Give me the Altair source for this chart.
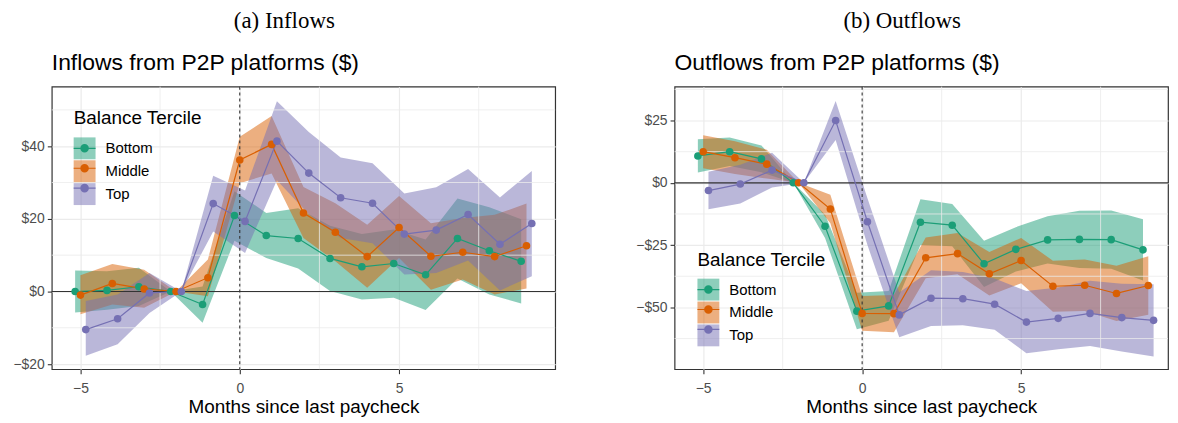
import altair as alt
import pandas as pd

# ---------------- data ----------------
months = [-5, -4, -3, -2, -1, 0, 1, 2, 3, 4, 5, 6, 7, 8, 9]
terciles = ["Bottom", "Middle", "Top"]
colors = ["#1B9E77", "#D95F02", "#7570B3"]

# (a) Inflows from P2P platforms ($)
in_bottom    = [0.0, 0.3, 1.3, 0.0, -3.6, 20.9, 15.4, 14.6, 9.1, 6.8, 7.7, 4.6, 14.6, 11.2, 8.3]
in_bottom_lo = [-5.8, -5.0, -4.0, 0.0, -8.6, 14.0, 9.2, 6.3, 0.1, -2.2, -1.7, -5.1, 3.6, -0.8, -3.3]
in_bottom_hi = [5.8, 5.6, 6.5, 0.0, 1.4, 27.6, 21.6, 22.9, 18.1, 15.8, 17.1, 14.3, 25.6, 23.2, 19.9]

in_middle    = [-1.0, 2.2, 0.7, 0.0, 3.8, 36.2, 40.5, 21.6, 16.3, 9.6, 17.6, 9.7, 10.8, 9.6, 12.6]
in_middle_lo = [-6.3, -3.6, -4.5, 0.0, -1.3, 29.8, 32.5, 14.7, 8.3, 1.0, 9.2, 0.5, 3.3, -0.8, 0.8]
in_middle_hi = [4.5, 7.6, 6.0, 0.0, 8.8, 42.6, 48.3, 28.8, 24.3, 18.4, 26.3, 18.8, 20.2, 21.1, 24.2]

in_top    = [-10.5, -7.5, -0.4, 0.0, 24.2, 19.3, 41.4, 32.6, 25.8, 24.3, 15.8, 16.9, 21.2, 13.0, 18.7]
in_top_lo = [-17.7, -14.5, -5.9, 0.0, 16.5, 10.6, 30.6, 21.3, 14.7, 13.3, 4.7, 5.1, 8.5, 0.3, 4.2]
in_top_hi = [-2.6, -0.8, 5.1, 0.0, 31.9, 27.8, 52.4, 43.9, 36.9, 35.3, 27.0, 28.7, 33.7, 25.9, 33.2]

# (b) Outflows from P2P platforms ($)
out_bottom    = [10.8, 12.5, 9.6, 0.0, -17.4, -51.5, -49.4, -15.8, -17.0, -32.5, -26.7, -22.9, -22.7, -22.8, -26.9]
out_bottom_lo = [4.1, 6.8, 4.2, 0.0, -22.1, -58.8, -55.4, -25.0, -25.5, -41.8, -35.6, -32.4, -34.2, -34.5, -39.2]
out_bottom_hi = [17.5, 18.2, 15.0, 0.0, -12.7, -44.1, -43.4, -6.6, -8.5, -23.2, -17.8, -13.4, -11.2, -11.1, -14.6]

out_middle    = [12.5, 10.1, 7.5, 0.0, -10.5, -52.4, -52.5, -30.1, -28.4, -36.5, -31.2, -41.5, -41.1, -44.4, -41.2]
out_middle_lo = [5.9, 3.5, 1.7, 0.0, -16.2, -59.4, -60.0, -38.3, -36.7, -45.2, -40.3, -51.7, -51.4, -55.5, -52.9]
out_middle_hi = [19.1, 16.7, 13.3, 0.0, -4.8, -45.4, -45.0, -21.9, -20.1, -27.8, -22.1, -31.3, -30.8, -33.3, -29.5]

out_top    = [-3.1, -0.5, 5.1, 0.0, 25.0, -15.6, -53.0, -46.3, -46.5, -48.7, -55.9, -54.4, -52.4, -54.1, -55.2]
out_top_lo = [-10.6, -8.3, -1.9, 0.0, 17.2, -25.0, -62.0, -57.5, -57.2, -59.0, -68.4, -66.8, -65.5, -67.7, -69.7]
out_top_hi = [4.4, 7.3, 12.1, 0.0, 32.8, -6.2, -44.0, -35.1, -35.8, -38.4, -43.4, -42.0, -39.3, -40.5, -40.7]

# axis ticks / grid positions
x_major = [-5, 0, 5]
x_minor = [-2.5, 2.5, 7.5]
in_y_major = [-20, 0, 20, 40]
in_y_minor = [-10, 10, 30, 50]
out_y_major = [-50, -25, 0, 25]
out_y_minor = [-62.5, -37.5, -12.5, 12.5, 37.5]
ref_zero = [0]

# ---------------- styling ----------------
DODGE = {"Bottom": -1 / 6, "Middle": 0.0, "Top": 1 / 6}
SANS = "Liberation Sans"
SERIF = "Liberation Serif"
LEGEND_PATH = ("M-1,-0.055L1,-0.055L1,0.055L-1,0.055Z"
               "M0.39,0A0.39,0.39,0,1,1,-0.39,0A0.39,0.39,0,1,1,0.39,0Z")
LEG_TITLE_H = 28  # vertical room taken by the legend title + its padding


def build(series):
    rows = []
    for t, (vals, los, his) in zip(terciles, series):
        for m, v, lo, hi in zip(months, vals, los, his):
            rows.append({"month": m, "Tercile": t, "Group": t, "LineGroup": t,
                         "x": m + DODGE[t], "value": v, "lo": lo, "hi": hi})
    return pd.DataFrame(rows)


df_in = build([(in_bottom, in_bottom_lo, in_bottom_hi),
               (in_middle, in_middle_lo, in_middle_hi),
               (in_top, in_top_lo, in_top_hi)])
df_out = build([(out_bottom, out_bottom_lo, out_bottom_hi),
                (out_middle, out_middle_lo, out_middle_hi),
                (out_top, out_top_lo, out_top_hi)])


def panel(df, xdom, ydom, ymaj, ymin, width, title, lx, ly):
    xs = alt.Scale(domain=xdom, nice=False, zero=False)
    ys = alt.Scale(domain=ydom, nice=False, zero=False)
    xaxis = alt.Axis(values=x_major, title="Months since last paycheck",
                     labelExpr="datum.value < 0 ? '\u2212' + abs(datum.value) : '' + datum.value")
    yaxis = alt.Axis(values=ymaj, title=None,
                     labelExpr="datum.value < 0 ? '\u2212$' + abs(datum.value) : '$' + datum.value")

    def X(f):
        return alt.X(f, scale=xs, axis=xaxis)

    def Y(f):
        return alt.Y(f, scale=ys, axis=yaxis)

    leg_common = dict(orient="none", legendX=lx,
                      symbolSize=484, symbolStrokeWidth=0, labelOffset=10,
                      rowPadding=1, titlePadding=9, padding=0,
                      labelFontSize=15, titleFontSize=19, labelFont=SANS, titleFont=SANS,
                      titleFontWeight="normal", labelColor="black", titleColor="black")

    band = alt.Chart(df).mark_area(opacity=0.5).encode(
        x=X("x:Q"),
        y=Y("lo:Q"),
        y2="hi:Q",
        fill=alt.Fill("Tercile:N", scale=alt.Scale(range=colors),
                      legend=alt.Legend(title="Balance Tercile", legendY=ly, symbolType="square",
                                        symbolOpacity=0.5, **leg_common)),
    )
    gx = alt.Chart(pd.DataFrame({"v": x_minor})).mark_rule(
        color="#EBEBEB", strokeWidth=0.8).encode(x=X("v:Q"))
    gy = alt.Chart(pd.DataFrame({"v": ymin})).mark_rule(
        color="#EBEBEB", strokeWidth=0.8).encode(y=Y("v:Q"))
    hline = alt.Chart(pd.DataFrame({"v": ref_zero})).mark_rule(
        color="#333333", strokeWidth=1.1).encode(y=Y("v:Q"))
    vline = alt.Chart(pd.DataFrame({"v": ref_zero})).mark_rule(
        color="#333333", strokeWidth=1.1, strokeDash=[3, 3]).encode(x=X("v:Q"))
    line = alt.Chart(df).mark_line(strokeWidth=1.2).encode(
        x=X("x:Q"),
        y=Y("value:Q"),
        stroke=alt.Stroke("LineGroup:N", scale=alt.Scale(range=colors), legend=None),
    )
    pts = alt.Chart(df).mark_point(filled=True, size=58, opacity=1).encode(
        x=X("x:Q"),
        y=Y("value:Q"),
        color=alt.Color("Group:N", scale=alt.Scale(range=colors),
                        legend=alt.Legend(title=None, legendY=ly + LEG_TITLE_H,
                                          symbolType=LEGEND_PATH, labelExpr="''",
                                          **leg_common)),
    )
    return alt.layer(band, gx, gy, hline, vline, line, pts).properties(
        width=width, height=284,
        title=alt.TitleParams(title, anchor="start", frame="group", font=SANS, fontSize=23,
                              fontWeight="normal", color="black", offset=11),
    )


left = panel(df_in, [-5.9, 9.9], [-21.4, 56.4], in_y_major, in_y_minor, 506,
             "Inflows from P2P platforms ($)", 22, 23)
right = panel(df_out, [-5.9, 9.62], [-74.8, 38.6], out_y_major, out_y_minor, 496,
              "Outflows from P2P platforms ($)", 23, 165)

cap = dict(anchor="middle", frame="bounds", font=SERIF, fontSize=23,
           fontWeight="normal", color="black", offset=19)
left_w = alt.vconcat(left, title=alt.TitleParams("(a) Inflows", **cap))
right_w = alt.vconcat(right, title=alt.TitleParams("(b) Outflows", **cap))

chart = alt.hconcat(left_w, right_w, spacing=78).resolve_scale(
    color="independent", fill="independent", stroke="independent"
).resolve_legend(
    color="independent", fill="independent", stroke="independent"
).properties(
    padding={"left": 4, "top": 0, "right": 0, "bottom": 0}
).configure_view(
    stroke="#333333", strokeWidth=1.2
).configure_axis(
    labelFont=SANS, labelFontSize=14, labelColor="#4D4D4D", labelPadding=3,
    tickColor="#333333", tickSize=4.5, tickWidth=1.1, domain=False,
    gridColor="#EBEBEB", gridWidth=1.2,
    titleFont=SANS, titleFontSize=19, titleFontWeight="normal", titleColor="black",
    titlePadding=2,
).configure_axisX(labelPadding=8)

chart.save("out.html", embed_options={"renderer": "svg", "actions": False})
